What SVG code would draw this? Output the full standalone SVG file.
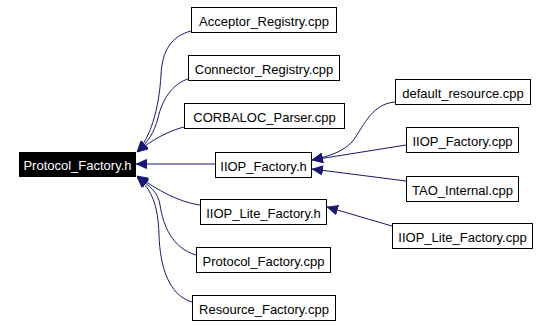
<svg xmlns="http://www.w3.org/2000/svg" width="550" height="326" viewBox="0 0 550 326">
<defs>
<style>
.n rect{fill:#fff;stroke:#000;stroke-width:1}
.n text{font-family:"Liberation Sans",Arial,sans-serif;font-size:13px;text-anchor:middle;fill:#000}
#pfh rect{fill:#000}
#pfh text{fill:#fff}
.e path{fill:none;stroke:#191970;stroke-width:1;marker-end:url(#ah)}
</style>
<marker id="ah" viewBox="0 0 11 10" refX="11" refY="5" markerWidth="11" markerHeight="10" markerUnits="userSpaceOnUse" orient="auto">
<path d="M0.5,0.5 L10.5,5 L0.5,9.5 z" fill="#191970" stroke="#191970"/>
</marker>
</defs>
<rect width="550" height="326" fill="#fff"/>
<g class="e" id="edges">
<path d="M191,31 C172,36 162,50 161,75 C159,110 150,138 137,152"/>
<path d="M188,79 C172,84 162,100 158,118 C154,133 148,142 137,152"/>
<path d="M184,127 C168,131 152,140 137,152"/>
<path d="M215,164 L136,164"/>
<path d="M200,205 C178,202 158,190 137,176"/>
<path d="M196,255 C172,248 163,225 160,205 C158,192 150,186 137,177"/>
<path d="M192,302 C168,295 160,265 159,235 C158,205 152,190 137,177"/>
<path d="M395,102 C370,104 362,130 352,142 C342,152 330,156 312,160"/>
<path d="M406,145 L312,160"/>
<path d="M406,181 L312,169"/>
<path d="M392,226 L327,207"/>
</g>
<g class="n" id="pfh"><rect x="19.5" y="152.5" width="116" height="24"/><text x="77.5" y="169.5">Protocol_Factory.h</text></g>
<g class="n" id="acc"><rect x="191.5" y="7.5" width="145" height="25"/><text x="264" y="26">Acceptor_Registry.cpp</text></g>
<g class="n" id="con"><rect x="188.5" y="55.5" width="151" height="25"/><text x="264" y="74">Connector_Registry.cpp</text></g>
<g class="n" id="cor"><rect x="184.5" y="103.5" width="160" height="25"/><text x="264.5" y="122">CORBALOC_Parser.cpp</text></g>
<g class="n" id="iiopfh"><rect x="215.5" y="152.5" width="96" height="25"/><text x="263.5" y="171">IIOP_Factory.h</text></g>
<g class="n" id="iioplfh"><rect x="200.5" y="199.5" width="126" height="25"/><text x="263.5" y="218">IIOP_Lite_Factory.h</text></g>
<g class="n" id="pfcpp"><rect x="196.5" y="247.5" width="134" height="25"/><text x="263.5" y="266">Protocol_Factory.cpp</text></g>
<g class="n" id="rfcpp"><rect x="192.5" y="295.5" width="143" height="25"/><text x="264" y="314">Resource_Factory.cpp</text></g>
<g class="n" id="defres"><rect x="395.5" y="79.5" width="135" height="25"/><text x="463" y="98">default_resource.cpp</text></g>
<g class="n" id="iiopfcpp"><rect x="406.5" y="127.5" width="112" height="25"/><text x="462.5" y="146">IIOP_Factory.cpp</text></g>
<g class="n" id="tao"><rect x="406.5" y="176.5" width="112" height="25"/><text x="462.5" y="195">TAO_Internal.cpp</text></g>
<g class="n" id="iioplfcpp"><rect x="392.5" y="223.5" width="140" height="25"/><text x="462.5" y="242">IIOP_Lite_Factory.cpp</text></g>
</svg>
